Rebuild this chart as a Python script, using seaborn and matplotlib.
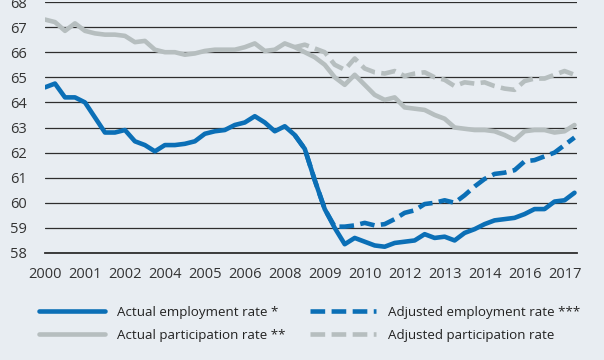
import numpy as np
import pandas as pd
import matplotlib.pyplot as plt
import seaborn as sns
from matplotlib.lines import Line2D

# Valores, un punto cada 4 meses desde enero de 2000
paso_meses = 4
empleo_actual = [64.6, 64.75, 64.2, 64.2, 64.0, 63.4, 62.8, 62.8, 62.9, 62.45,
                 62.3, 62.05, 62.3, 62.3, 62.35, 62.45, 62.75, 62.85, 62.9, 63.1,
                 63.2, 63.45, 63.2, 62.85, 63.05, 62.7, 62.15, 60.9, 59.75, 59.0,
                 58.35, 58.6, 58.45, 58.3, 58.25, 58.4, 58.45, 58.5, 58.75, 58.6,
                 58.65, 58.5, 58.8, 58.95, 59.15, 59.3, 59.35, 59.4, 59.55, 59.75,
                 59.75, 60.05, 60.1, 60.4]
participacion_actual = [67.3, 67.2, 66.85, 67.15, 66.85, 66.75, 66.7, 66.7, 66.65, 66.4,
                        66.45, 66.1, 66.0, 66.0, 65.9, 65.95, 66.05, 66.1, 66.1, 66.1,
                        66.2, 66.35, 66.05, 66.1, 66.35, 66.2, 66.0, 65.8, 65.5, 65.0,
                        64.7, 65.1, 64.7, 64.3, 64.1, 64.2, 63.8, 63.75, 63.7, 63.5,
                        63.35, 63.0, 62.95, 62.9, 62.9, 62.85, 62.7, 62.5, 62.85, 62.9,
                        62.9, 62.8, 62.85, 63.1]

# Series ajustadas: empiezan en el mes 100 (mayo de 2008)
inicio_ajustada = 100
empleo_ajustado = [62.7, 62.15, 60.9, 59.75, 59.05, 59.05, 59.1, 59.2, 59.1, 59.15,
                   59.35, 59.6, 59.7, 59.95, 60.0, 60.1, 60.0, 60.3, 60.65, 60.95,
                   61.15, 61.2, 61.3, 61.65, 61.7, 61.85, 62.0, 62.3, 62.6]
participacion_ajustada = [66.2, 66.3, 66.15, 66.0, 65.5, 65.3, 65.75, 65.35, 65.2, 65.15,
                          65.25, 65.05, 65.15, 65.2, 65.0, 64.9, 64.65, 64.8, 64.75, 64.8,
                          64.65, 64.55, 64.5, 64.85, 64.95, 64.95, 65.1, 65.25, 65.1]

etiquetas_x = ['2000', '2001', '2002', '2004', '2005', '2006', '2008', '2009',
               '2010', '2012', '2013', '2014', '2016', '2017']
nombres = ['Actual employment rate *', 'Actual participation rate **',
           'Adjusted employment rate ***', 'Adjusted participation rate']

azul = '#0b6fb6'
gris = '#b6bebf'
fondo = '#e8edf2'
oscuro = '#2e2e2e'
guiones = (3.2, 1.4)

def serie(valores, inicio, nombre):
    meses = inicio + np.arange(len(valores)) * paso_meses
    return pd.DataFrame({'mes': meses, 'valor': valores, 'serie': nombre})

datos = pd.concat([
    serie(empleo_actual, 0, nombres[0]),
    serie(participacion_actual, 0, nombres[1]),
    serie(empleo_ajustado, inicio_ajustada, nombres[2]),
    serie(participacion_ajustada, inicio_ajustada, nombres[3]),
])

sns.set_style('white')
plt.rcParams['font.family'] = ['Open Sans', 'DejaVu Sans']

fig = plt.figure(figsize=(6.04, 3.6), dpi=100, facecolor=fondo)
ax = fig.add_axes([45 / 604, 1 - 253 / 360, 532 / 604, 251 / 360])
ax.set_facecolor(fondo)

colores = {nombres[0]: azul, nombres[1]: gris, nombres[2]: azul, nombres[3]: gris}
estilos = {nombres[0]: '', nombres[1]: '', nombres[2]: guiones, nombres[3]: guiones}
orden_dibujo = [nombres[1], nombres[3], nombres[2], nombres[0]]

sns.lineplot(data=datos, x='mes', y='valor', hue='serie', style='serie',
             hue_order=orden_dibujo, style_order=orden_dibujo,
             palette=colores, dashes=estilos, linewidth=3.3, legend=False,
             ax=ax, zorder=3)
for linea in ax.get_lines():
    linea.set_dash_capstyle('butt')
    linea.set_solid_capstyle('round')

ax.set_xlim(0, 213)
ax.set_ylim(58, 68)
ax.set_xticks(np.arange(len(etiquetas_x)) * 16)
ax.set_xticklabels(etiquetas_x)
ax.set_yticks(range(58, 69))
ax.set_xlabel('')
ax.set_ylabel('')

ax.grid(axis='y', color=oscuro, linewidth=0.9)
ax.grid(axis='x', visible=False)
for lado in ['top', 'right', 'left']:
    ax.spines[lado].set_visible(False)
ax.spines['bottom'].set_color(oscuro)
ax.spines['bottom'].set_linewidth(1.3)
ax.tick_params(axis='x', direction='in', length=5, width=1.2, color=oscuro,
               pad=10, labelsize=10.5, labelcolor='#333333')
ax.tick_params(axis='y', length=0, pad=13, labelsize=10.5, labelcolor='#333333')

manejadores = [
    Line2D([], [], color=azul, lw=3.3, solid_capstyle='round'),
    Line2D([], [], color=gris, lw=3.3, solid_capstyle='round'),
    Line2D([], [], color=azul, lw=3.3, dashes=guiones, dash_capstyle='butt'),
    Line2D([], [], color=gris, lw=3.3, dashes=guiones, dash_capstyle='butt'),
]
fig.legend(manejadores, nombres, loc='upper left', bbox_to_anchor=(0.044, 0.184),
           ncol=2, frameon=False, fontsize=9.6, handlelength=5.0,
           handletextpad=0.9, columnspacing=1.8, labelspacing=0.75,
           labelcolor='#222222')

fig.savefig('out.png', dpi=100, facecolor=fondo)
